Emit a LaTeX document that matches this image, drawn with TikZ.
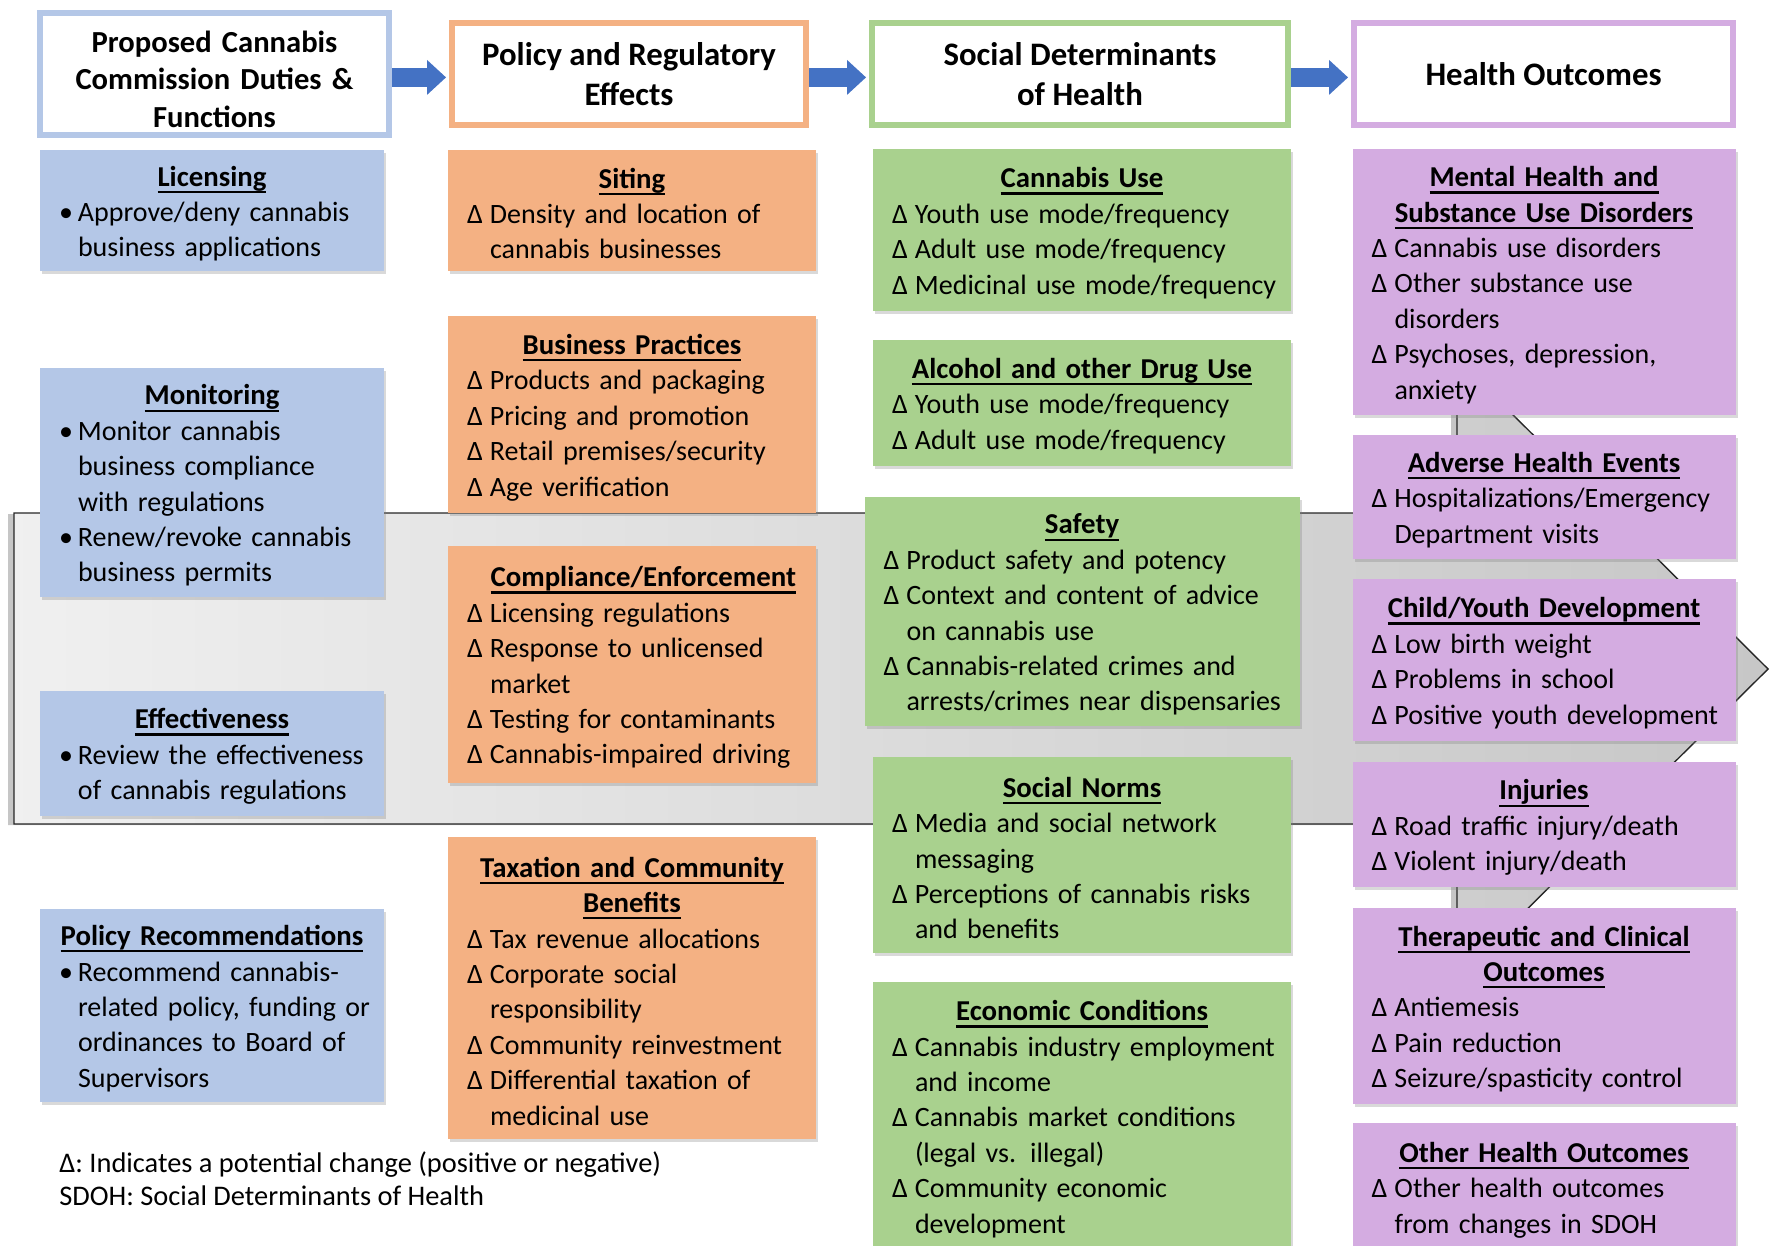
\documentclass[tikz,border=0pt]{standalone}
\usepackage{fontspec}
\setmainfont{Carlito}
\usepackage{xcolor}
\usepackage{tikz}
\usetikzlibrary{positioning,shadows,arrows.meta}

\definecolor{dutyblue}{HTML}{B4C7E7}
\definecolor{effectorange}{HTML}{F4B183}
\definecolor{sdohgreen}{HTML}{A9D18E}
\definecolor{outcomepurple}{HTML}{D4ACE1}
\definecolor{flowblue}{HTML}{4472C4}

% underlined box titles and list lines
\newcommand{\udl}[1]{\setbox0\hbox{#1}\rlap{\rule[-3.4pt]{\wd0}{1.1pt}}\box0}
\newcommand{\boxhead}[2][0pt]{\noindent\hbox to\hsize{\hss\hspace*{#1}\fontsize{14.4}{17.7}\selectfont\bfseries\udl{#2}\hss}\par}
\newcommand{\chg}[1]{\noindent\hbox to\hsize{\makebox[11.5pt][l]{Δ}#1\hss}\par}
\newcommand{\cont}[1]{\noindent\hbox to\hsize{\hspace*{11.5pt}#1\hss}\par}
\newcommand{\bul}[1]{\noindent\hbox to\hsize{\makebox[9.5pt][l]{•}#1\hss}\par}
\newcommand{\bcont}[1]{\noindent\hbox to\hsize{\hspace*{9.5pt}#1\hss}\par}

\tikzset{
  header/.style={draw=#1, line width=3pt, fill=white, align=center, inner sep=2pt,
    font=\bfseries\fontsize{16.4}{20.3}\selectfont},
  card/.style={fill=#1, inner xsep=9.5pt, inner ysep=0pt, outer sep=0pt, text height=13.2pt,
    font=\fontsize{14}{17.7}\selectfont,
    drop shadow={shadow xshift=1.2pt, shadow yshift=-1.6pt, opacity=0.3}},
  dutycard/.style={card=dutyblue, text width=153pt},
  effectcard/.style={card=effectorange, text width=165pt},
  sdohcard/.style={card=sdohgreen, text width=190pt},
  outcomecard/.style={card=outcomepurple, text width=172.5pt},
  flowarrow/.style={draw=flowblue, line width=9.5pt, shorten >=1.5pt,
    -{Triangle[width=17.5pt, length=9.5pt, line width=0pt]}},
}

\begin{document}
\begin{tikzpicture}[x=0.5pt, y=-0.5pt]
  \useasboundingbox (0,0) rectangle (1771,1246);

  % grey block arrow behind the boxes
  \path[draw=black!85, line width=0.7pt, left color=black!6, right color=black!22,
    drop shadow={shadow xshift=-3pt, shadow yshift=-0.5pt, opacity=0.45}]
    (14,513) -- (1457,513) -- (1457,359) -- (1768,669) -- (1457,979)
    -- (1457,824) -- (14,824) -- cycle;

  % column headers
  \node[header=dutyblue, minimum width=174.5pt, minimum height=61pt, text width=170pt,
    text height=16pt, font=\bfseries\fontsize{15.3}{18.6}\selectfont] (duties) at (214.5,74)
    {Proposed Cannabis\\Commission Duties \&\\Functions}; %
  \node[header=effectorange, minimum width=177pt, minimum height=51pt] (effects) at (629,74)
    {Policy and Regulatory\\Effects}; %
  \node[header=sdohgreen, minimum width=208pt, minimum height=51pt] (sdoh) at (1080,74)
    {Social Determinants\\of Health}; %
  \node[header=outcomepurple, minimum width=189.5pt, minimum height=51pt] (outcomes) at (1543.5,74)
    {Health Outcomes}; %

  \draw[flowarrow] ([yshift=-1.7pt]duties.east) -- ([yshift=-1.7pt]effects.west);
  \draw[flowarrow] ([yshift=-1.7pt]effects.east) -- ([yshift=-1.7pt]sdoh.west);
  \draw[flowarrow] ([yshift=-1.7pt]sdoh.east) -- ([yshift=-1.7pt]outcomes.west);

  % commission duties
  \node[dutycard, minimum height=60.5pt, anchor=north] (licensing) at (212,150)
    {\boxhead{Licensing}\bul{Approve/deny cannabis}\bcont{business applications}}; %
  \node[dutycard, minimum height=114.5pt, below=48.5pt of licensing] (monitoring)
    {\boxhead{Monitoring}\bul{Monitor cannabis}\bcont{business compliance}\bcont{with regulations}%
     \bul{Renew/revoke cannabis}\bcont{business permits}}; %
  \node[dutycard, minimum height=62.5pt, below=47pt of monitoring] (effectiveness)
    {\boxhead{Effectiveness}\bul{Review the effectiveness}\bcont{of cannabis regulations}}; %
  \node[dutycard, minimum height=96.5pt, below=46.5pt of effectiveness] (recommend)
    {\boxhead{Policy Recommendations}\bul{Recommend cannabis-}\bcont{related policy, funding or}%
     \bcont{ordinances to Board of}\bcont{Supervisors}}; %

  % policy and regulatory effects
  \node[effectcard, minimum height=60.5pt, anchor=north] (siting) at (632,150)
    {\boxhead{Siting}\chg{Density and location of}\cont{cannabis businesses}}; %
  \node[effectcard, minimum height=98.5pt, below=22.5pt of siting] (practices)
    {\boxhead{Business Practices}\chg{Products and packaging}\chg{Pricing and promotion}%
     \chg{Retail premises/security}\chg{Age verification}}; %
  \node[effectcard, minimum height=118.5pt, below=16.5pt of practices] (compliance)
    {\boxhead[11.3pt]{Compliance/Enforcement}\chg{Licensing regulations}\chg{Response to unlicensed}%
     \cont{market}\chg{Testing for contaminants}\chg{Cannabis-impaired driving}}; %
  \node[effectcard, minimum height=151pt, below=27pt of compliance] (taxation)
    {\boxhead{Taxation and Community}\boxhead{Benefits}\chg{Tax revenue allocations}%
     \chg{Corporate social}\cont{responsibility}\chg{Community reinvestment}%
     \chg{Differential taxation of}\cont{medicinal use}}; %

  % social determinants of health
  \node[sdohcard, minimum height=81pt, anchor=north] (canuse) at (1082,149)
    {\boxhead{Cannabis Use}\chg{Youth use mode/frequency}\chg{Adult use mode/frequency}%
     \chg{Medicinal use mode/frequency}}; %
  \node[sdohcard, minimum height=63pt, below=14.5pt of canuse] (druguse)
    {\boxhead{Alcohol and other Drug Use}\chg{Youth use mode/frequency}\chg{Adult use mode/frequency}}; %
  \node[sdohcard, text width=198.5pt, minimum height=114.5pt, below=15.5pt of druguse] (safety)
    {\boxhead{Safety}\chg{Product safety and potency}\chg{Context and content of advice}%
     \cont{on cannabis use}\chg{Cannabis-related crimes and}\cont{arrests/crimes near dispensaries}}; %
  \node[sdohcard, minimum height=98pt, below=15.5pt of safety] (norms)
    {\boxhead{Social Norms}\chg{Media and social network}\cont{messaging}%
     \chg{Perceptions of cannabis risks}\cont{and benefits}}; %
  \node[sdohcard, minimum height=134pt, below=14.5pt of norms] (economy)
    {\boxhead{Economic Conditions}\chg{Cannabis industry employment}\cont{and income}%
     \chg{Cannabis market conditions}\cont{(legal vs. illegal)}%
     \chg{Community economic}\cont{development}}; %

  % health outcomes
  \node[outcomecard, minimum height=133pt, anchor=north] (mental) at (1544,149)
    {\boxhead{Mental Health and}\boxhead{Substance Use Disorders}\chg{Cannabis use disorders}%
     \chg{Other substance use}\cont{disorders}\chg{Psychoses, depression,}\cont{anxiety}}; %
  \node[outcomecard, minimum height=62pt, below=10pt of mental] (adverse)
    {\boxhead{Adverse Health Events}\chg{Hospitalizations/Emergency}\cont{Department visits}}; %
  \node[outcomecard, minimum height=81pt, below=10pt of adverse] (youth)
    {\boxhead{Child/Youth Development}\chg{Low birth weight}\chg{Problems in school}%
     \chg{Positive youth development}}; %
  \node[outcomecard, minimum height=62.5pt, below=10.5pt of youth] (injuries)
    {\boxhead{Injuries}\chg{Road traffic injury/death}\chg{Violent injury/death}}; %
  \node[outcomecard, minimum height=98pt, below=10.5pt of injuries] (clinical)
    {\boxhead{Therapeutic and Clinical}\boxhead{Outcomes}\chg{Antiemesis}\chg{Pain reduction}%
     \chg{Seizure/spasticity control}}; %
  \node[outcomecard, minimum height=64pt, below=9.5pt of clinical] (otherhealth)
    {\boxhead{Other Health Outcomes}\chg{Other health outcomes}\cont{from changes in SDOH}}; %

  % legend
  \node[anchor=north west, inner sep=0pt, align=left,
    font=\fontsize{14.2}{16.5}\selectfont] (legend) at (59,1151)
    {Δ: Indicates a potential change (positive or negative)\\SDOH: Social Determinants of Health}; %
\end{tikzpicture}
\end{document}
